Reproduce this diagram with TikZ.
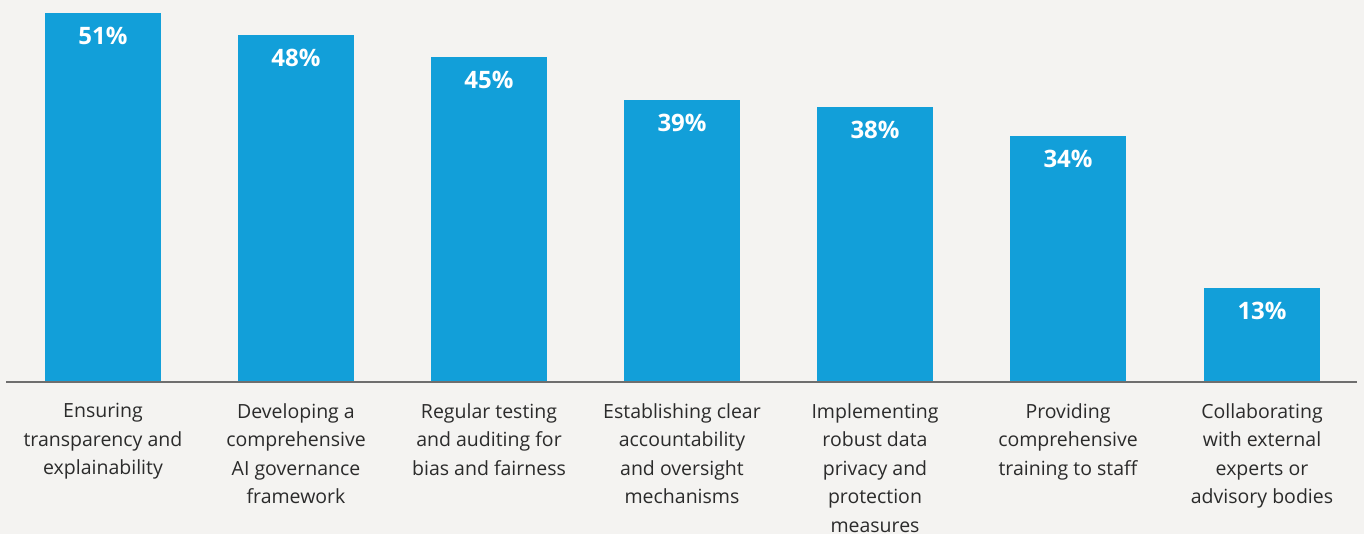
\documentclass[tikz,border=0pt]{standalone}
\usepackage{fontspec}
\setmainfont{Open Sans}
\definecolor{bg}{HTML}{F4F3F1}
\definecolor{barblue}{HTML}{129FD9}
\definecolor{axisgray}{HTML}{6E6E6E}
\definecolor{txt}{HTML}{2B2B2B}
\begin{document}
\begin{tikzpicture}[x=1pt,y=-1pt,
  bar/.style={fill=barblue,draw=none},
  val/.style={text=white,font=\fontsize{24}{28}\selectfont\bfseries,anchor=center},
  lab/.style={text=txt,font=\fontsize{19.5}{28.5}\selectfont,align=center,anchor=north,inner sep=0pt}]
\fill[bg] (0,0) rectangle (1364,534);
\useasboundingbox (0,0) rectangle (1364,534);
\foreach \i/\x/\t/\v/\l in {
 1/45/13/51\%/{Ensuring\\transparency and\\explainability},
 2/238/35/48\%/{Developing a\\comprehensive\\AI governance\\framework},
 3/431/57/45\%/{Regular testing\\and auditing for\\bias and fairness},
 4/624/100/39\%/{Establishing clear\\accountability\\and oversight\\mechanisms},
 5/817/107/38\%/{Implementing\\robust data\\privacy and\\protection\\measures},
 6/1010/136/34\%/{Providing\\comprehensive\\training to staff},
 7/1204/288/13\%/{Collaborating\\with external\\experts or\\advisory bodies}}{
  \fill[bar] (\x,\t) rectangle ++(116,382-\t);
  \node[val] (v\i) at (\x+58,\t+23) {\v};
  \node[lab] (l\i) at (\x+58,403) {\l};
}
\draw[axisgray,line width=1.5pt] (6,382) -- (1357,382);
\end{tikzpicture}
\end{document}
